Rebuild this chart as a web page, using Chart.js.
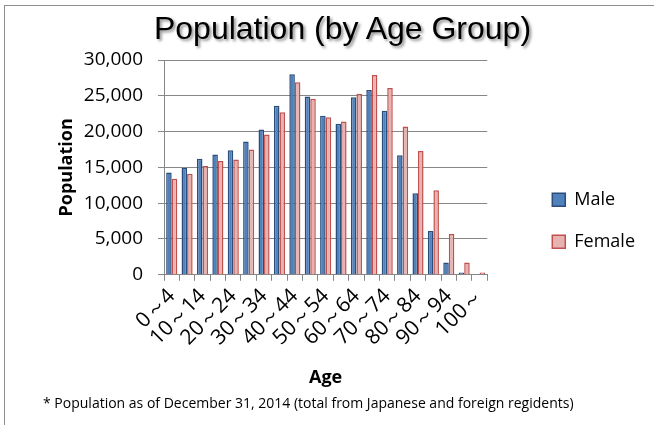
<!DOCTYPE html>
<html>
<head>
<meta charset="utf-8">
<title>Population (by Age Group)</title>
<script src="https://cdn.jsdelivr.net/npm/chart.js@4.4.1/dist/chart.umd.min.js"></script>
<style>
html, body { margin: 0; padding: 0; background: #fff; }
#wrap { position: relative; width: 654px; height: 425px; overflow: hidden; }
#frame { position: absolute; left: 4px; top: 5px; width: 700px; height: 500px; border: 1px solid #8e8e8e; box-sizing: border-box; }
#title { position: absolute; left: 0; top: 12px; width: 685px; text-align: center; font: 32px/32px "Liberation Sans", Arial, sans-serif; color: #000; text-shadow: 2px 2px 3px rgba(0,0,0,0.45); white-space: nowrap; }
#note { position: absolute; left: 43px; top: 395px; font: 14px/16px "Open Sans", sans-serif; color: #000; white-space: nowrap; }
#chart { position: absolute; left: 0; top: 0; }
</style>
</head>
<body>
<div id="wrap">
	<div id="frame"></div>
	<canvas id="chart" width="654" height="425"></canvas>
	<div id="title">Population (by Age Group)</div>
	<div id="note">* Population as of December 31, 2014 (total from Japanese and foreign regidents)</div>
</div>
<script>
// age groups (5 year steps)
var ageGroups = ["0～4","5～9","10～14","15～19","20～24","25～29","30～34","35～39","40～44","45～49",
	"50～54","55～59","60～64","65～69","70～74","75～79","80～84","85～89","90～94","95～99","100～"];

var male = [14300,14900,16200,16800,17400,18600,20300,23600,28000,24900,
	22200,21100,24800,25800,22900,16700,11400,6100,1700,300,50];
var female = [13400,14100,15200,15900,16100,17500,19600,22700,26900,24600,
	22000,21400,25300,27900,26100,20700,17300,11800,5700,1700,300];

var yTicks = [0,5000,10000,15000,20000,25000,30000];

var FONT = "'Open Sans', sans-serif";
var GRID = "#878787";

function renderChart(){
	var ctx = document.querySelector('#chart').getContext('2d');
	new Chart(ctx, {
		type: "bar",
		data: {
			labels: ageGroups,
			datasets: [{
				label: "Male",
				data: male,
				backgroundColor: "#4f81bd",
				borderColor: "#2a4d7a",
				borderWidth: 1.5,
				categoryPercentage: 0.72,
				barPercentage: 1.0
			},{
				label: "Female",
				data: female,
				backgroundColor: "#e6b3b1",
				borderColor: "#c0504d",
				borderWidth: 1.5,
				categoryPercentage: 0.72,
				barPercentage: 1.0
			}]
		},
		options: {
			responsive: false,
			animation: false,
			layout: { padding: { top: 60, left: 56, right: 9, bottom: 36 } },
			plugins: {
				title: { display: false },
				tooltip: { enabled: false },
				legend: {
					position: "right",
					align: "end",
					fullSize: false,
					maxWidth: 140,
					labels: {
						boxWidth: 13,
						boxHeight: 13,
						padding: 24,
						color: "#000",
						font: { family: FONT, size: 18 }
					}
				}
			},
			scales: {
				x: {
					grid: { offset: true, drawOnChartArea: false, drawTicks: true, tickLength: 6, color: GRID },
					border: { color: GRID },
					ticks: {
						autoSkip: false,
						minRotation: 45,
						maxRotation: 45,
						color: "#000",
						font: { family: FONT, size: 21 },
						callback: function(v, i){ return i % 2 === 0 ? ageGroups[i] : ""; }
					},
					title: { display: true, text: "Age", color: "#000", padding: { top: 14, bottom: 0 },
						font: { family: FONT, size: 18, weight: "bold" } }
				},
				y: {
					min: 0,
					max: 30000,
					afterBuildTicks: function(s){ s.ticks = yTicks.map(function(v){ return { value: v }; }); },
					afterFit: function(s){ s.width = 108; },
					grid: { color: GRID, tickLength: 6 },
					border: { color: GRID },
					ticks: { color: "#000", padding: 15, font: { family: FONT, size: 19 } },
					title: { display: true, text: "Population", color: "#000", padding: { top: 0, bottom: 0 },
						font: { family: FONT, size: 18, weight: "bold" } }
				},
				// empty axis, only keeps the legend away from the plot
				sp: {
					type: "linear",
					position: "right",
					grid: { display: false },
					border: { display: false },
					ticks: { display: false },
					afterFit: function(s){ s.width = 41; }
				}
			}
		}
	});
}

renderChart();
</script>
</body>
</html>
